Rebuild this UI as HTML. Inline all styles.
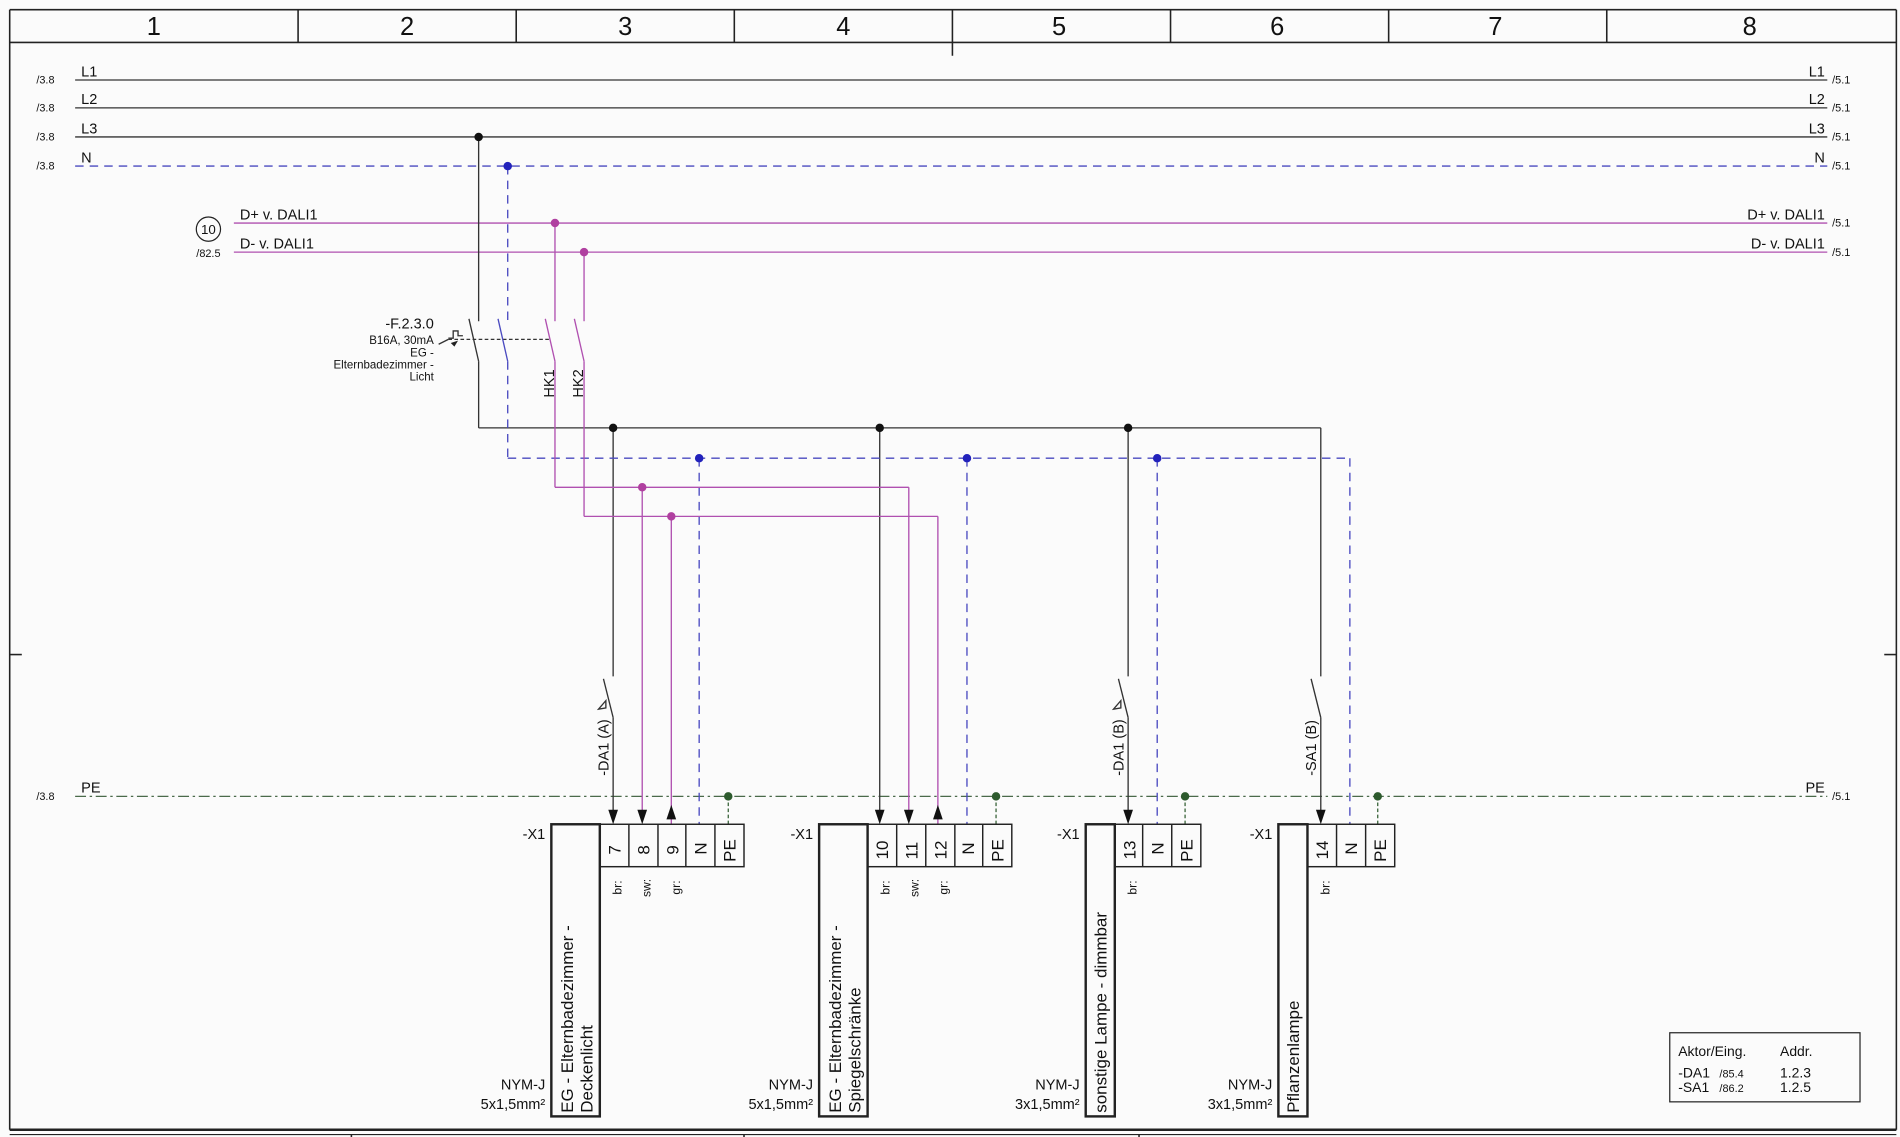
<!DOCTYPE html>
<html><head><meta charset="utf-8"><style>html,body{margin:0;padding:0;background:#fbfbfb}svg{display:block}text{font-family:"Liberation Sans",sans-serif;fill:#111}</style></head><body>
<svg width="1900" height="1137" viewBox="0 0 1568 938" preserveAspectRatio="none" xmlns="http://www.w3.org/2000/svg">
<rect x="0" y="0" width="1568" height="938" fill="#fbfbfb"/>
<g stroke="#222" fill="none" stroke-width="1.3">
<line x1="8" y1="8" x2="1565" y2="8"/>
<line x1="8" y1="8" x2="8" y2="932"/>
<line x1="1565" y1="8" x2="1565" y2="932"/>
<line x1="8" y1="35" x2="1565" y2="35"/>
<line x1="246" y1="8" x2="246" y2="35"/><line x1="426" y1="8" x2="426" y2="35"/><line x1="606" y1="8" x2="606" y2="35"/><line x1="786" y1="8" x2="786" y2="46"/><line x1="966" y1="8" x2="966" y2="35"/><line x1="1146" y1="8" x2="1146" y2="35"/><line x1="1326" y1="8" x2="1326" y2="35"/>
<line x1="8" y1="540" x2="18" y2="540"/><line x1="1555" y1="540" x2="1565" y2="540"/>
<line x1="8" y1="932" x2="1565" y2="932" stroke-width="2"/>
<line x1="8" y1="936" x2="1565" y2="936" stroke-width="1"/>
<line x1="290" y1="936" x2="290" y2="938"/><line x1="614" y1="936" x2="614" y2="938"/><line x1="940" y1="936" x2="940" y2="938"/>
</g>
<g font-size="21" text-anchor="middle">
<text x="127" y="29">1</text><text x="336" y="29">2</text><text x="516" y="29">3</text><text x="696" y="29">4</text><text x="874" y="29">5</text><text x="1054" y="29">6</text><text x="1234" y="29">7</text><text x="1444" y="29">8</text>
</g>
<!-- supply lines -->
<g stroke="#333" stroke-width="1.1">
<line x1="62" y1="66" x2="1508" y2="66"/><line x1="62" y1="89" x2="1508" y2="89"/><line x1="62" y1="113" x2="1508" y2="113"/>
</g>
<line x1="62" y1="137" x2="1508" y2="137" stroke="#4a4ac0" stroke-width="1.1" stroke-dasharray="7,5"/>
<g stroke="#b050b0" stroke-width="1.1">
<line x1="193" y1="184" x2="1508" y2="184"/><line x1="193" y1="208" x2="1508" y2="208"/>
</g>
<g font-size="12"><text x="67" y="63">L1</text><text x="67" y="86">L2</text><text x="67" y="110">L3</text><text x="67" y="134">N</text>
<text x="198" y="181">D+ v. DALI1</text><text x="198" y="205">D- v. DALI1</text><text x="67" y="654">PE</text></g>
<g font-size="12" text-anchor="end"><text x="1506" y="63">L1</text><text x="1506" y="86">L2</text><text x="1506" y="110">L3</text><text x="1506" y="134">N</text>
<text x="1506" y="181">D+ v. DALI1</text><text x="1506" y="205">D- v. DALI1</text><text x="1506" y="654">PE</text></g>
<g font-size="9"><text x="30" y="69">/3.8</text><text x="30" y="92">/3.8</text><text x="30" y="116">/3.8</text><text x="30" y="140">/3.8</text><text x="30" y="660">/3.8</text><text x="162" y="212">/82.5</text>
<text x="1512" y="69">/5.1</text><text x="1512" y="92">/5.1</text><text x="1512" y="116">/5.1</text><text x="1512" y="140">/5.1</text><text x="1512" y="187">/5.1</text><text x="1512" y="211">/5.1</text><text x="1512" y="660">/5.1</text></g>
<circle cx="172" cy="189" r="10" fill="none" stroke="#222"/><text x="172" y="193" font-size="11" text-anchor="middle">10</text>
<!-- PE -->
<line x1="62" y1="657" x2="1508" y2="657" stroke="#4a6a4a" stroke-width="1.1" stroke-dasharray="9,3,2,3"/>
<!-- switch block -->
<g stroke="#333" stroke-width="1.1" fill="none">
<line x1="395" y1="113" x2="395" y2="265"/><line x1="387" y1="263" x2="395" y2="298"/><line x1="395" y1="298" x2="395" y2="353"/>
<line x1="395" y1="353" x2="1090" y2="353"/>
<line x1="1090" y1="353" x2="1090" y2="558"/><line x1="1082" y1="560" x2="1090" y2="592"/><line x1="1090" y1="592" x2="1090" y2="670"/>
<line x1="506" y1="353" x2="506" y2="558"/><line x1="498" y1="560" x2="506" y2="592"/><line x1="506" y1="592" x2="506" y2="670"/>
<line x1="726" y1="353" x2="726" y2="670"/>
<line x1="931" y1="353" x2="931" y2="558"/><line x1="923" y1="560" x2="931" y2="592"/><line x1="931" y1="592" x2="931" y2="670"/>
<path d="M494 585 L500 578 L500 584 Z" />
<path d="M919 585 L925 578 L925 584 Z" />
<path d="M382 277 h-4 v-4 h-4 v6 h-4 M370 280 l-8 4" />
</g>
<line x1="370" y1="280" x2="455" y2="280" stroke="#333" stroke-dasharray="3,2" stroke-width="1"/>
<path d="M372 283 l6 -2 l-3 5z" fill="#222"/>
<g stroke="#4a4ac0" stroke-width="1.1" fill="none" stroke-dasharray="7,5">
<line x1="419" y1="137" x2="419" y2="265"/><line x1="419" y1="298" x2="419" y2="378"/>
<line x1="419" y1="378" x2="1114" y2="378"/>
<line x1="577" y1="378" x2="577" y2="680"/><line x1="798" y1="378" x2="798" y2="680"/><line x1="955" y1="378" x2="955" y2="680"/><line x1="1114" y1="378" x2="1114" y2="680"/>
</g>
<line x1="411" y1="263" x2="419" y2="298" stroke="#4a4ac0" stroke-width="1.1"/>
<g stroke="#b050b0" stroke-width="1.1" fill="none">
<line x1="458" y1="184" x2="458" y2="265"/><line x1="450" y1="263" x2="458" y2="298"/><line x1="458" y1="298" x2="458" y2="402"/>
<line x1="482" y1="208" x2="482" y2="265"/><line x1="474" y1="263" x2="482" y2="298"/><line x1="482" y1="298" x2="482" y2="426"/>
<line x1="458" y1="402" x2="750" y2="402"/><line x1="482" y1="426" x2="774" y2="426"/>
<line x1="530" y1="402" x2="530" y2="670"/><line x1="554" y1="426" x2="554" y2="680"/>
<line x1="750" y1="402" x2="750" y2="670"/><line x1="774" y1="426" x2="774" y2="680"/>
</g>
<g fill="#111">
<path d="M502 668 h8 l-4 12z"/><path d="M526 668 h8 l-4 12z"/><path d="M550 676 h8 l-4 -12z"/>
<path d="M722 668 h8 l-4 12z"/><path d="M746 668 h8 l-4 12z"/><path d="M770 676 h8 l-4 -12z"/>
<path d="M927 668 h8 l-4 12z"/><path d="M1086 668 h8 l-4 12z"/>
<circle cx="395" cy="113" r="3.5"/><circle cx="506" cy="353" r="3.5"/><circle cx="726" cy="353" r="3.5"/><circle cx="931" cy="353" r="3.5"/>
</g>
<g fill="#2222bb"><circle cx="419" cy="137" r="3.5"/><circle cx="577" cy="378" r="3.5"/><circle cx="798" cy="378" r="3.5"/><circle cx="955" cy="378" r="3.5"/></g>
<g fill="#b040a0"><circle cx="458" cy="184" r="3.5"/><circle cx="482" cy="208" r="3.5"/><circle cx="530" cy="402" r="3.5"/><circle cx="554" cy="426" r="3.5"/></g>
<g stroke="#2d5a2d" stroke-width="1" stroke-dasharray="3,2"><line x1="601" y1="657" x2="601" y2="680"/><line x1="822" y1="657" x2="822" y2="680"/><line x1="978" y1="657" x2="978" y2="680"/><line x1="1137" y1="657" x2="1137" y2="680"/></g>
<g fill="#2d5a2d"><circle cx="601" cy="657" r="3.5"/><circle cx="822" cy="657" r="3.5"/><circle cx="978" cy="657" r="3.5"/><circle cx="1137" cy="657" r="3.5"/></g>
<g font-size="11" text-anchor="end"><text x="358" y="271" font-size="12">-F.2.3.0</text><text x="358" y="284" font-size="9.5">B16A, 30mA</text><text x="358" y="294" font-size="9.5">EG -</text><text x="358" y="304" font-size="9.5">Elternbadezimmer -</text><text x="358" y="314" font-size="9.5">Licht</text></g>
<g font-size="12"><text transform="translate(457,328) rotate(-90)">HK1</text><text transform="translate(481,328) rotate(-90)">HK2</text>
<text transform="translate(502,640) rotate(-90)">-DA1 (A)</text><text transform="translate(927,640) rotate(-90)">-DA1 (B)</text><text transform="translate(1086,640) rotate(-90)">-SA1 (B)</text></g>
<!-- terminal groups -->
<g stroke="#222" fill="none" stroke-width="1.2">
<rect x="455" y="680" width="40" height="241" stroke-width="2"/>
<rect x="495" y="680" width="119" height="35"/><line x1="519" y1="680" x2="519" y2="715"/><line x1="543" y1="680" x2="543" y2="715"/><line x1="566" y1="680" x2="566" y2="715"/><line x1="590" y1="680" x2="590" y2="715"/>
<rect x="676" y="680" width="40" height="241" stroke-width="2"/>
<rect x="716" y="680" width="119" height="35"/><line x1="740" y1="680" x2="740" y2="715"/><line x1="764" y1="680" x2="764" y2="715"/><line x1="788" y1="680" x2="788" y2="715"/><line x1="811" y1="680" x2="811" y2="715"/>
<rect x="896" y="680" width="24" height="241" stroke-width="2"/>
<rect x="920" y="680" width="71" height="35"/><line x1="943" y1="680" x2="943" y2="715"/><line x1="967" y1="680" x2="967" y2="715"/>
<rect x="1055" y="680" width="24" height="241" stroke-width="2"/>
<rect x="1079" y="680" width="72" height="35"/><line x1="1103" y1="680" x2="1103" y2="715"/><line x1="1127" y1="680" x2="1127" y2="715"/>
<rect x="1378" y="852" width="157" height="57" stroke-width="1"/>
</g>
<g font-size="14">
<text transform="translate(512,705) rotate(-90)">7</text><text transform="translate(536,705) rotate(-90)">8</text><text transform="translate(560,705) rotate(-90)">9</text><text transform="translate(583,705) rotate(-90)">N</text><text transform="translate(607,711) rotate(-90)">PE</text>
<text transform="translate(733,709) rotate(-90)">10</text><text transform="translate(757,709) rotate(-90)">11</text><text transform="translate(781,709) rotate(-90)">12</text><text transform="translate(804,705) rotate(-90)">N</text><text transform="translate(828,711) rotate(-90)">PE</text>
<text transform="translate(937,709) rotate(-90)">13</text><text transform="translate(960,705) rotate(-90)">N</text><text transform="translate(984,711) rotate(-90)">PE</text>
<text transform="translate(1096,709) rotate(-90)">14</text><text transform="translate(1120,705) rotate(-90)">N</text><text transform="translate(1144,711) rotate(-90)">PE</text>
<text transform="translate(473,918) rotate(-90)">EG - Elternbadezimmer -</text><text transform="translate(489,918) rotate(-90)">Deckenlicht</text>
<text transform="translate(694,918) rotate(-90)">EG - Elternbadezimmer -</text><text transform="translate(710,918) rotate(-90)">Spiegelschränke</text>
<text transform="translate(913,918) rotate(-90)">sonstige Lampe - dimmbar</text>
<text transform="translate(1072,918) rotate(-90)">Pflanzenlampe</text>
</g>
<g font-size="10"><text transform="translate(513,738) rotate(-90)">br:</text><text transform="translate(537,740) rotate(-90)">sw:</text><text transform="translate(561,738) rotate(-90)">gr:</text>
<text transform="translate(734,738) rotate(-90)">br:</text><text transform="translate(758,740) rotate(-90)">sw:</text><text transform="translate(782,738) rotate(-90)">gr:</text>
<text transform="translate(938,738) rotate(-90)">br:</text><text transform="translate(1097,738) rotate(-90)">br:</text></g>
<g font-size="12" text-anchor="end"><text x="450" y="692">-X1</text><text x="671" y="692">-X1</text><text x="891" y="692">-X1</text><text x="1050" y="692">-X1</text>
<text x="450" y="899">NYM-J</text><text x="450" y="915">5x1,5mm²</text><text x="671" y="899">NYM-J</text><text x="671" y="915">5x1,5mm²</text>
<text x="891" y="899">NYM-J</text><text x="891" y="915">3x1,5mm²</text><text x="1050" y="899">NYM-J</text><text x="1050" y="915">3x1,5mm²</text></g>
<g font-size="11.5"><text x="1385" y="871">Aktor/Eing.</text><text x="1469" y="871">Addr.</text>
<text x="1385" y="889">-DA1</text><text x="1419" y="889" font-size="9">/85.4</text><text x="1469" y="889">1.2.3</text>
<text x="1385" y="901">-SA1</text><text x="1419" y="901" font-size="9">/86.2</text><text x="1469" y="901">1.2.5</text></g>
</svg>
</body></html>
